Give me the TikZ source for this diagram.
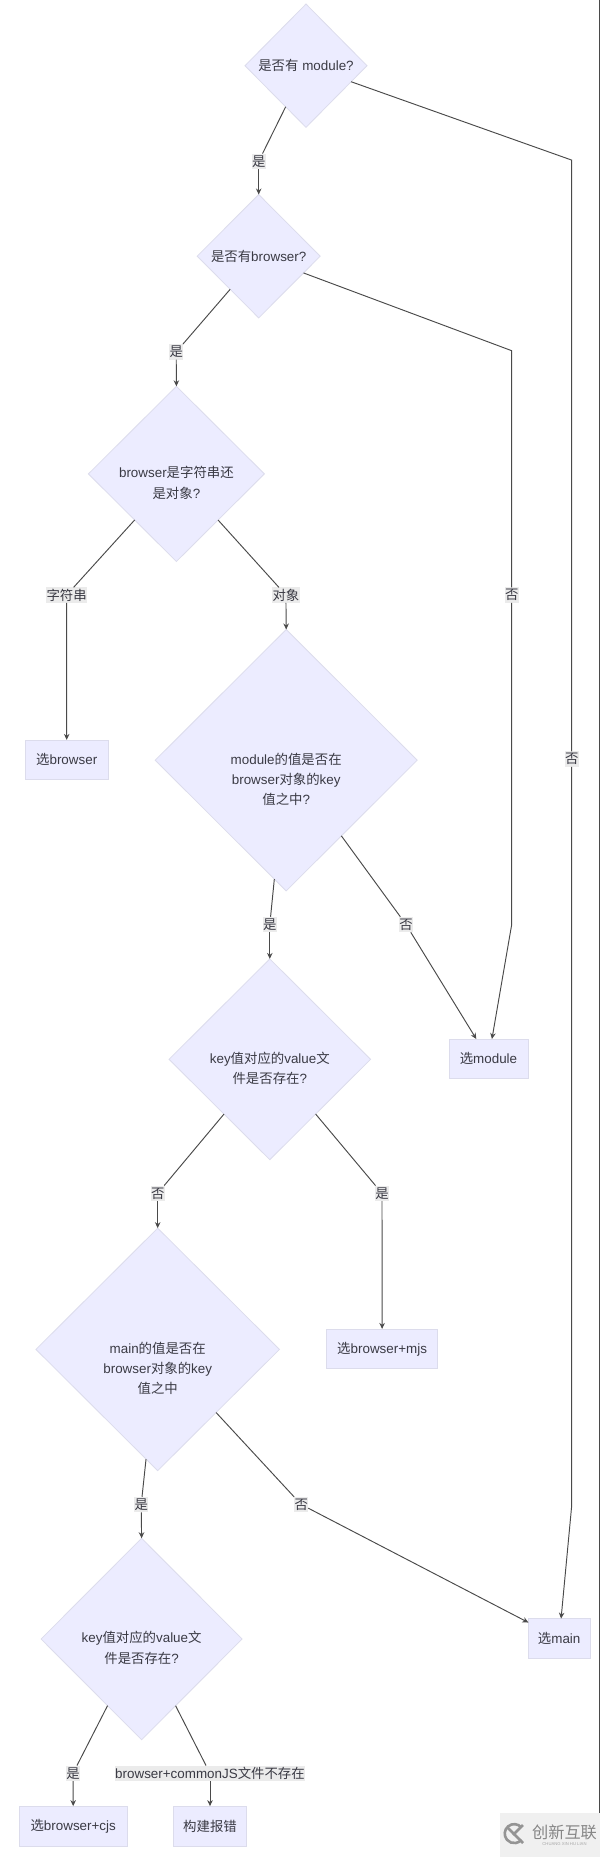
\documentclass[tikz,border=0pt]{standalone}
\usepackage{fontspec}
\setmainfont{Liberation Sans}
\newfontfamily\cjk{Noto Sans CJK SC}
\usetikzlibrary{shapes.geometric,arrows.meta}
\definecolor{nodefill}{HTML}{ECECFF}
\definecolor{nodeline}{HTML}{DCDCEC}
\definecolor{inkc}{HTML}{3A3A44}
\definecolor{linec}{HTML}{4A4A4A}
\definecolor{labbg}{HTML}{EBEBEB}
\newcommand{\C}[1]{{\cjk #1}}
\newcommand{\dtext}[2]{\raisebox{-#1}[0pt][0pt]{\begin{tabular}{@{}c@{}}#2\end{tabular}}}
\tikzset{
  base/.style={font=\fontsize{13.4}{20.2}\selectfont,text=inkc},
  dia/.style={base,diamond,draw=nodeline,fill=nodefill,line width=0.8pt,inner sep=0pt,outer sep=0pt,minimum width=#1},
  box/.style={base,rectangle,draw=nodeline,fill=nodefill,line width=0.8pt,inner sep=0pt,outer sep=0pt,minimum height=39.8pt},
  lab/.style={base,rectangle,fill=labbg,inner xsep=0.3pt,inner ysep=0pt,outer sep=0pt,minimum height=15.5pt},
  plainline/.style={draw=linec,line width=0.95pt},
  arrowline/.style={plainline,-{Stealth[length=6pt,width=5.5pt]}}
}
\begin{document}
\begin{tikzpicture}[x=1pt,y=-1pt]
\useasboundingbox (0,0) rectangle (600,1857);
\fill[white] (0,0) rectangle (600,1857);
% diamonds
\node[dia=122pt,minimum height=123.3pt] (d1) at (306,65.7) {\C{是否有} module?};
\node[dia=123pt,minimum height=123.4pt] (d2) at (258.7,256.2) {\C{是否有}browser?};
\node[dia=176pt,minimum height=175.2pt] (d3) at (176.4,473.9) {\dtext{13.6pt}{browser\C{是字符串还}\\\C{是对象}?}};
\node[dia=262pt,minimum height=261.4pt] (d4) at (286.2,760.2) {\dtext{23.8pt}{module\C{的值是否在}\\browser\C{对象的}key\\\C{值之中}?}};
\node[dia=201.5pt,minimum height=200.8pt] (d5) at (269.8,1059.3) {\dtext{13.6pt}{key\C{值对应的}value\C{文}\\\C{件是否存在}?}};
\node[dia=243.5pt,minimum height=242.5pt] (d6) at (157.7,1349.4) {\dtext{23.8pt}{main\C{的值是否在}\\browser\C{对象的}key\\\C{值之中}}};
\node[dia=201pt,minimum height=201.5pt] (d7) at (141.6,1639) {\dtext{13.6pt}{key\C{值对应的}value\C{文}\\\C{件是否存在}?}};
% boxes
\node[box,minimum width=82.7pt] (b1) at (66.7,759.8) {\C{选}browser};
\node[box,minimum width=79pt] (b2) at (488.5,1058.9) {\C{选}module};
\node[box,minimum width=111.3pt] (b3) at (382.1,1348.8) {\C{选}browser+mjs};
\node[box,minimum width=61.5pt] (b4) at (559.2,1638.5) {\C{选}main};
\node[box,minimum width=107.5pt] (b5) at (73.2,1826) {\C{选}browser+cjs};
\node[box,minimum width=73pt] (b6) at (210,1826) {\C{构建报错}};
% edge labels
\node[lab] (l1) at (258.7,161.3) {\C{是}};
\node[lab] (l2) at (176.2,351.9) {\C{是}};
\node[lab] (l3) at (66.6,595.1) {\C{字符串}};
\node[lab] (l4) at (285.9,595.1) {\C{对象}};
\node[lab] (l5) at (511.7,595.1) {\C{否}};
\node[lab] (l6) at (571.7,759.2) {\C{否}};
\node[lab] (l7) at (269.8,924.5) {\C{是}};
\node[lab] (l8) at (406,924.5) {\C{否}};
\node[lab] (l9) at (157.7,1193.3) {\C{否}};
\node[lab] (l10) at (382,1193.3) {\C{是}};
\node[lab] (l11) at (141.2,1504.5) {\C{是}};
\node[lab] (l12) at (301.2,1504.5) {\C{否}};
\node[lab] (l13) at (73,1773.3) {\C{是}};
\node[lab] (l14) at (210,1773.3) {browser+commonJS\C{文件不存在}};
% bend points
\coordinate (c1) at (571.7,160.1);
\coordinate (c2) at (571.7,1505.6);
\coordinate (c3) at (511.7,350.7);
\coordinate (c4) at (511.7,924.5);
% connectors
\draw[plainline] (d1) -- (l1);
\draw[arrowline] (l1) -- (d2.north);
\draw[plainline] (d2) -- (l2);
\draw[arrowline] (l2) -- (d3.north);
\draw[plainline] (d3) -- (l3);
\draw[arrowline] (l3) -- (b1.north);
\draw[plainline] (d3) -- (l4);
\draw[arrowline] (l4) -- (d4.north);
\draw[plainline] (d4) -- (l7);
\draw[arrowline] (l7) -- (d5.north);
\draw[plainline] (d4) -- (l8);
\draw[arrowline] (l8) -- (b2);
\draw[plainline] (d5) -- (l9);
\draw[arrowline] (l9) -- (d6.north);
\draw[plainline] (d5) -- (l10);
\draw[arrowline] (l10) -- (b3.north);
\draw[plainline] (d6) -- (l11);
\draw[arrowline] (l11) -- (d7.north);
\draw[plainline] (d6) -- (l12);
\draw[arrowline] (l12) -- (b4);
\draw[plainline] (d7) -- (l13);
\draw[arrowline] (l13) -- (b5.north);
\draw[plainline] (d7) -- (l14);
\draw[arrowline] (l14) -- (b6.north);
\draw[plainline] (d1) -- (c1) -- (l6);
\draw[arrowline] (l6) -- (c2) -- (b4);
\draw[plainline] (d2) -- (c3) -- (l5);
\draw[arrowline] (l5) -- (c4) -- (b2);
% page edge and watermark
\fill[linec] (598.6,0) rectangle (600,1813);
\fill[black!6] (500,1813) rectangle (600,1857);
\draw[black!42,line width=2.6pt] (521.5,1827.5) arc (-40:-320:9.5);
\draw[black!42,line width=2.6pt] (507,1827) -- (523,1843) (523,1825) -- (513,1835);
\node[font=\cjk\fontsize{16.2}{16}\selectfont,text=black!48,inner sep=0pt] (wm1) at (564.5,1832) {创新互联};
\node[font=\fontsize{4.2}{5}\selectfont,text=black!35,inner sep=0pt] (wm2) at (564.5,1844.5) {CHUANG XIN HU LIAN};
\end{tikzpicture}
\end{document}
